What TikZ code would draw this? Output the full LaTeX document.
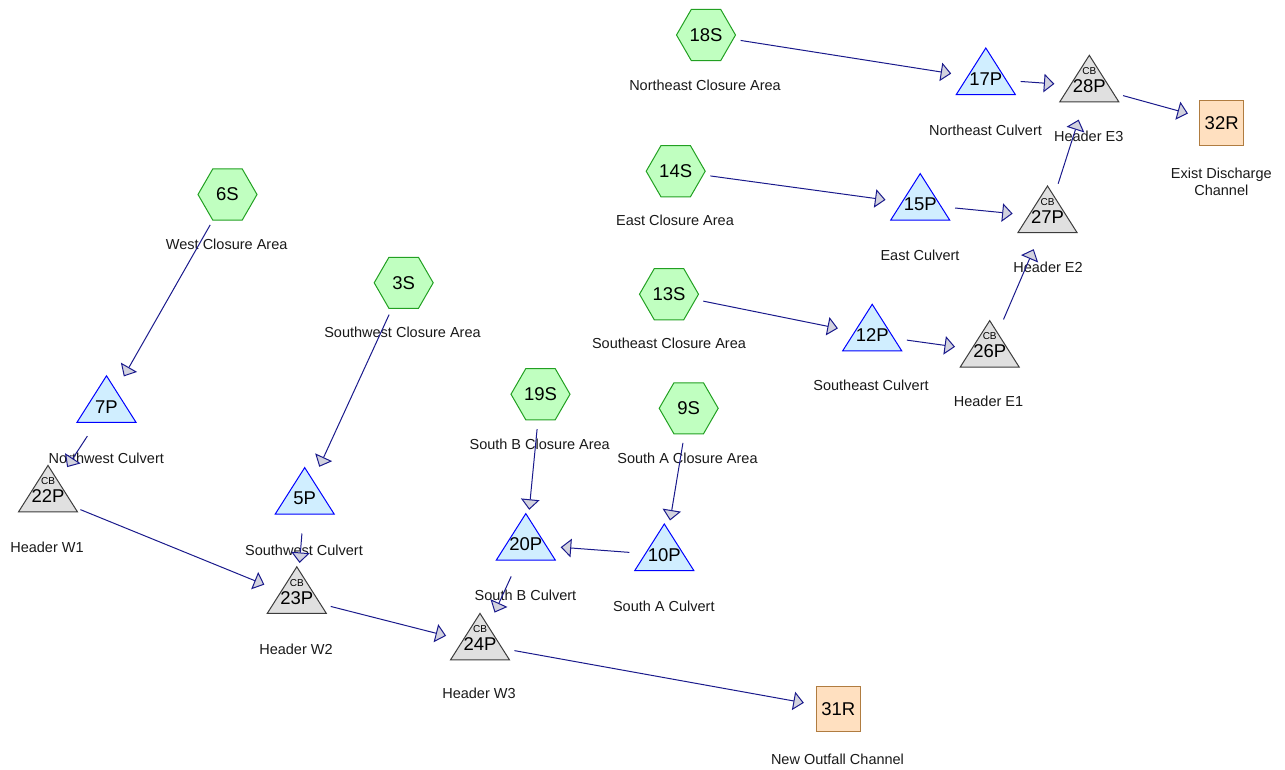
\documentclass[tikz,border=0pt]{standalone}
\usepackage{fontspec}
\setmainfont{Liberation Sans}
\usetikzlibrary{shapes.geometric,arrows.meta}
\definecolor{areafill}{HTML}{C0FFC0}
\definecolor{areaedge}{HTML}{22A022}
\definecolor{pondfill}{HTML}{D0EEFF}
\definecolor{pondedge}{HTML}{0000FF}
\definecolor{cbfill}{HTML}{E0E0E0}
\definecolor{cbedge}{HTML}{3C3C3C}
\definecolor{reachfill}{HTML}{FFE0C0}
\definecolor{reachedge}{HTML}{B07C40}
\definecolor{flowline}{HTML}{1A1A8C}
\definecolor{tipfill}{HTML}{D2D2DE}
\begin{document}
\begin{tikzpicture}[x=1pt, y=-1pt, line width=1pt,
	area/.style={regular polygon, regular polygon sides=6, minimum size=59pt, inner sep=0pt, draw=areaedge, fill=areafill, font=\fontsize{18.5}{20}\selectfont},
	reach/.style={rectangle, minimum size=44.5pt, inner sep=0pt, draw=reachedge, fill=reachfill, font=\fontsize{18.5}{20}\selectfont},
	pondshape/.style={draw=pondedge, fill=pondfill},
	cbshape/.style={draw=cbedge, fill=cbfill},
	pondtext/.style={inner sep=0pt, font=\fontsize{18.5}{20}\selectfont},
	cbtext/.style={inner sep=0pt, font=\fontsize{10}{11}\selectfont},
	caption/.style={inner sep=0pt, align=center, text=black!90, font=\fontsize{14.5}{16.7}\selectfont},
	flow/.style={draw=flowline, shorten <=35pt, shorten >=35pt, -{Triangle[length=10.5pt, width=18.5pt, fill=tipfill]}}]
		
		\useasboundingbox (0,0) rectangle (1285,769);
		
		\draw[pondshape] (985.8,79) ++(0,-31) -- ++(29.5,46.5) -- ++(-59,0) -- cycle;
		\draw[pondshape] (920.2,204.6) ++(0,-31) -- ++(29.5,46.5) -- ++(-59,0) -- cycle;
		\draw[pondshape] (872.2,335.3) ++(0,-31) -- ++(29.5,46.5) -- ++(-59,0) -- cycle;
		\draw[pondshape] (106.5,406.8) ++(0,-31) -- ++(29.5,46.5) -- ++(-59,0) -- cycle;
		\draw[pondshape] (304.7,498.6) ++(0,-31) -- ++(29.5,46.5) -- ++(-59,0) -- cycle;
		\draw[pondshape] (525.8,544.6) ++(0,-31) -- ++(29.5,46.5) -- ++(-59,0) -- cycle;
		\draw[pondshape] (664.3,555) ++(0,-31) -- ++(29.5,46.5) -- ++(-59,0) -- cycle;
		
		\draw[cbshape] (1089.3,86.3) ++(0,-31) -- ++(29.5,46.5) -- ++(-59,0) -- cycle;
		\draw[cbshape] (1047.5,217) ++(0,-31) -- ++(29.5,46.5) -- ++(-59,0) -- cycle;
		\draw[cbshape] (989.7,351.6) ++(0,-31) -- ++(29.5,46.5) -- ++(-59,0) -- cycle;
		\draw[cbshape] (48,496.4) ++(0,-31) -- ++(29.5,46.5) -- ++(-59,0) -- cycle;
		\draw[cbshape] (296.8,597.8) ++(0,-31) -- ++(29.5,46.5) -- ++(-59,0) -- cycle;
		\draw[cbshape] (480,644.4) ++(0,-31) -- ++(29.5,46.5) -- ++(-59,0) -- cycle;
		
		\node[area] (s18) at (706,35) {18S};
		\node[area] (s14) at (675.7,171.2) {14S};
		\node[area] (s13) at (669,294.2) {13S};
		\node[area] (s6) at (227.5,194.5) {6S};
		\node[area] (s3) at (403.7,282.8) {3S};
		\node[area] (s19) at (540.5,394.2) {19S};
		\node[area] (s9) at (688.7,408.3) {9S};
		
		\node[reach] (r32) at (1221.7,122.8) {32R};
		\node[reach] (r31) at (838.3,709) {31R};
		
		\node[pondtext] (p17) at (985.8,79) {17P};
		\node[pondtext] (p15) at (920.2,204.6) {15P};
		\node[pondtext] (p12) at (872.2,335.3) {12P};
		\node[pondtext] (p7) at (106.5,406.8) {7P};
		\node[pondtext] (p5) at (304.7,498.6) {5P};
		\node[pondtext] (p20) at (525.8,544.6) {20P};
		\node[pondtext] (p10) at (664.3,555) {10P};
		
		\node[pondtext, label={[cbtext, label distance=4pt]above:CB}] (p28) at (1089.3,86.3) {28P};
		\node[pondtext, label={[cbtext, label distance=4pt]above:CB}] (p27) at (1047.5,217) {27P};
		\node[pondtext, label={[cbtext, label distance=4pt]above:CB}] (p26) at (989.7,351.6) {26P};
		\node[pondtext, label={[cbtext, label distance=4pt]above:CB}] (p22) at (48,496.4) {22P};
		\node[pondtext, label={[cbtext, label distance=4pt]above:CB}] (p23) at (296.8,597.8) {23P};
		\node[pondtext, label={[cbtext, label distance=4pt]above:CB}] (p24) at (480,644.4) {24P};
		
		\node[caption] (s18l) at (705,85.7) {Northeast Closure Area};
		\node[caption] (s14l) at (675,220.7) {East Closure Area};
		\node[caption] (s13l) at (669,343.3) {Southeast Closure Area};
		\node[caption] (s6l) at (226.7,244) {West Closure Area};
		\node[caption] (s3l) at (402.5,332.7) {Southwest Closure Area};
		\node[caption] (s19l) at (539.7,444) {South B Closure Area};
		\node[caption] (s9l) at (687.5,458.3) {South A Closure Area};
		\node[caption] (p17l) at (985.5,130) {Northeast Culvert};
		\node[caption] (p28l) at (1088.7,136.7) {Header E3};
		\node[caption] (r32l) at (1221.3,181.7) {Exist Discharge\\Channel};
		\node[caption] (p15l) at (920,255) {East Culvert};
		\node[caption] (p27l) at (1048,267) {Header E2};
		\node[caption] (p12l) at (871,385.7) {Southeast Culvert};
		\node[caption] (p26l) at (988.5,401.7) {Header E1};
		\node[caption] (p7l) at (106.3,458.3) {Northwest Culvert};
		\node[caption] (p22l) at (47,547) {Header W1};
		\node[caption] (p5l) at (304,550) {Southwest Culvert};
		\node[caption] (p23l) at (296,649) {Header W2};
		\node[caption] (p20l) at (525.5,595) {South B Culvert};
		\node[caption] (p10l) at (663.8,606) {South A Culvert};
		\node[caption] (p24l) at (479,693.3) {Header W3};
		\node[caption] (r31l) at (837.5,759.3) {New Outfall Channel};
		
		\draw[flow] (s18.center) -- (p17.center);
		\draw[flow] (p17.center) -- (p28.center);
		\draw[flow] (p28.center) -- (r32.center);
		\draw[flow] (s14.center) -- (p15.center);
		\draw[flow] (p15.center) -- (p27.center);
		\draw[flow] (p27.center) -- (p28.center);
		\draw[flow] (s13.center) -- (p12.center);
		\draw[flow] (p12.center) -- (p26.center);
		\draw[flow] (p26.center) -- (p27.center);
		
		\draw[flow] (s6.center) -- (p7.center);
		\draw[flow] (p7.center) -- (p22.center);
		\draw[flow] (p22.center) -- (p23.center);
		\draw[flow] (s3.center) -- (p5.center);
		\draw[flow] (p5.center) -- (p23.center);
		\draw[flow] (p23.center) -- (p24.center);
		
		\draw[flow] (s19.center) -- (p20.center);
		\draw[flow] (s9.center) -- (p10.center);
		\draw[flow] (p10.center) -- (p20.center);
		\draw[flow] (p20.center) -- (p24.center);
		\draw[flow] (p24.center) -- (r31.center);
		
	\end{tikzpicture}
\end{document}
